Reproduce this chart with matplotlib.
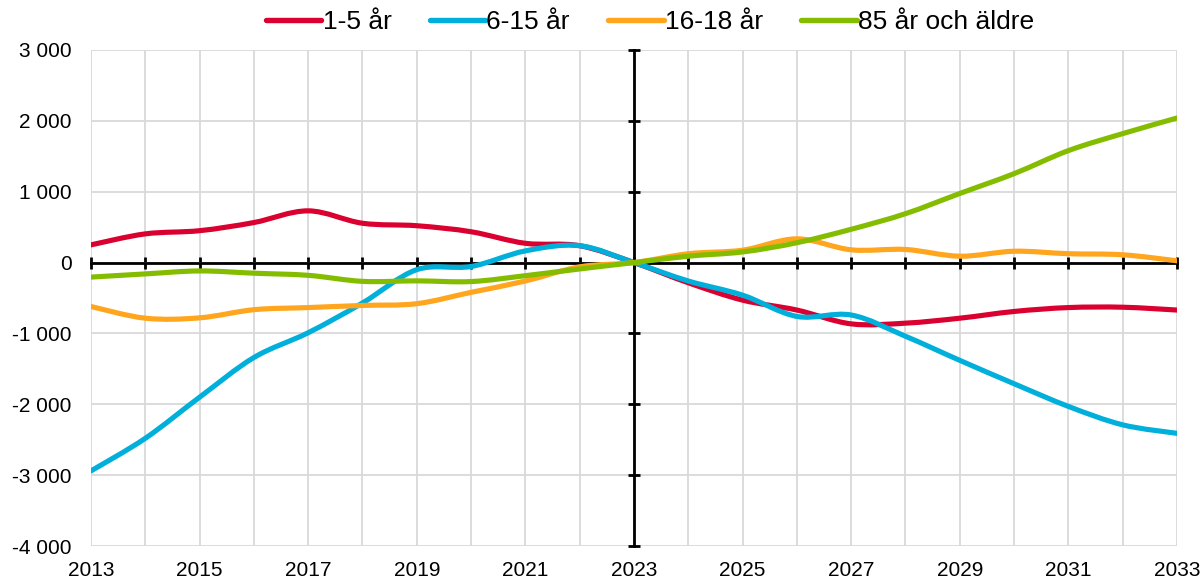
import numpy as np
import matplotlib
matplotlib.use("Agg")
import matplotlib.pyplot as plt
from matplotlib.path import Path
from matplotlib.patches import PathPatch
from matplotlib.lines import Line2D

plt.rcParams['font.family'] = ['Liberation Sans', 'DejaVu Sans']

# data (change vs 2023)
years = list(range(2013, 2034))
age_1_5 = [250, 405, 450, 565, 730, 555, 520, 435, 272, 238, 0,
           -285, -530, -670, -865, -855, -785, -690, -635, -630, -670]
age_6_15 = [-2940, -2480, -1900, -1340, -990, -570, -100, -55, 165, 238, 0,
            -260, -460, -760, -740, -1040, -1380, -1710, -2030, -2290, -2410]
age_16_18 = [-620, -785, -780, -665, -635, -605, -580, -420, -260, -60, 0,
             125, 175, 335, 180, 185, 90, 160, 125, 110, 25]
age_85 = [-205, -160, -118, -150, -180, -265, -258, -268, -185, -90, 0,
          90, 150, 280, 470, 690, 975, 1255, 1580, 1820, 2040]

labels = ['1-5 år', '6-15 år', '16-18 år', '85 år och äldre']
colors = ['#DA0030', '#00B0DA', '#FFA51E', '#84BD00']
series = [age_1_5, age_6_15, age_16_18, age_85]

yticks = list(range(-4000, 3001, 1000))
xlabel_years = list(range(2013, 2034, 2))


def smooth_path(x, y):
    # Excel-like smoothed line: Catmull-Rom segments as cubic Beziers
    x = np.asarray(x, float)
    y = np.asarray(y, float)
    n = len(x)
    verts = [(x[0], y[0])]
    codes = [Path.MOVETO]
    for i in range(n - 1):
        i0 = max(i - 1, 0)
        i3 = min(i + 2, n - 1)
        c1 = (x[i] + (x[i + 1] - x[i0]) / 6, y[i] + (y[i + 1] - y[i0]) / 6)
        c2 = (x[i + 1] - (x[i3] - x[i]) / 6, y[i + 1] - (y[i3] - y[i]) / 6)
        verts += [c1, c2, (x[i + 1], y[i + 1])]
        codes += [Path.CURVE4] * 3
    return Path(verts, codes)


fig = plt.figure(figsize=(12.02, 5.80), dpi=100)
ax = fig.add_axes([0.0757, 0.0586, 0.9035, 0.8552])

ax.set_xlim(2013, 2033)
ax.set_ylim(-4000, 3000)
ax.set_xticks(years)
ax.set_yticks(yticks)
ax.grid(True, color='#d9d9d9', linewidth=1.3)
ax.set_axisbelow(True)

for s in ['top', 'right']:
    ax.spines[s].set_visible(False)
ax.spines['left'].set_position(('data', 2023))
ax.spines['bottom'].set_position(('data', 0))
ax.spines['left'].set_linewidth(2)
ax.spines['bottom'].set_linewidth(2)
ax.spines['left'].set_zorder(1.5)
ax.spines['bottom'].set_zorder(1.5)
ax.tick_params(direction='inout', length=9, width=2, color='black',
               labelleft=False, labelbottom=False)

for vals, col in zip(series, colors):
    patch = PathPatch(smooth_path(years, vals), fill=False, edgecolor=col,
                      linewidth=3.7, capstyle='round', joinstyle='round',
                      zorder=3)
    ax.add_patch(patch)

# tick labels at the outer edges
sx = ax.secondary_xaxis(0.0)
sx.set_xticks(xlabel_years)
sx.set_xticklabels([str(y) for y in xlabel_years])
sx.tick_params(length=0, pad=11, labelsize=15)
sx.spines['bottom'].set_visible(False)

sy = ax.secondary_yaxis(0.0)
sy.set_yticks(yticks)
sy.set_yticklabels([f"{v:,}".replace(",", " ") for v in yticks])
sy.tick_params(length=0, pad=14, labelsize=15)
sy.spines['left'].set_visible(False)

handles = [Line2D([], [], color=c, linewidth=3.9, solid_capstyle='round')
           for c in colors]
fig.legend(handles, labels, loc='center', bbox_to_anchor=(650 / 1202, 1 - 22 / 580),
           ncol=4, frameon=False, fontsize=19, handlelength=2.1,
           handletextpad=0.05, columnspacing=1.45)

fig.savefig('out.png', dpi=100)
